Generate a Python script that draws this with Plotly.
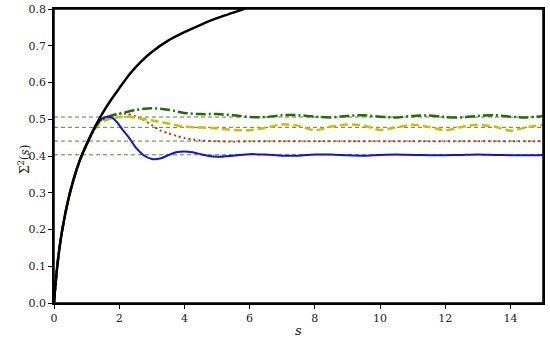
import plotly.graph_objects as go

# Reference curve (black)
s_ref = [0, 0.05, 0.1, 0.2, 0.3, 0.45, 0.6, 0.8, 1.0, 1.25, 1.5, 1.75, 2.0, 2.33, 2.67, 3.0, 3.5, 4.0, 4.5, 5.0, 5.5, 6.0]
v_ref = [0, 0.055, 0.1, 0.17, 0.222, 0.286, 0.336, 0.39, 0.432, 0.478, 0.518, 0.553, 0.584, 0.624, 0.657, 0.683, 0.714, 0.737, 0.757, 0.775, 0.790, 0.806]

# Blue solid
s_blue = [0, 0.1, 0.2, 0.3, 0.45, 0.6, 0.8, 1.0, 1.2, 1.35, 1.5, 1.65, 1.8, 1.95, 2.1, 2.3, 2.5, 2.75, 3.0, 3.25, 3.5, 3.75, 4.0, 4.25, 4.5, 4.75, 5.0,
          5.5, 6.0, 6.5, 7.0, 7.5, 8.0, 8.5, 9.0, 9.5, 10.0, 10.5, 11.0, 11.5, 12.0, 12.5, 13.0, 13.5, 14.0, 14.5, 15.0]
v_blue = [0, 0.1, 0.17, 0.222, 0.286, 0.336, 0.39, 0.432, 0.47, 0.492, 0.503, 0.507, 0.503, 0.49, 0.472, 0.45, 0.424, 0.402, 0.392, 0.393, 0.402, 0.41, 0.412, 0.41, 0.405, 0.400, 0.398,
          0.401, 0.405, 0.404, 0.401, 0.401, 0.404, 0.404, 0.402, 0.401, 0.403, 0.404, 0.403, 0.402, 0.402, 0.403, 0.404, 0.403, 0.402, 0.402, 0.403]

# Red dotted
s_red = [0, 0.1, 0.2, 0.3, 0.45, 0.6, 0.8, 1.0, 1.2, 1.4, 1.6, 1.8, 2.0, 2.2, 2.5, 2.75, 3.0, 3.25, 3.5, 3.75, 4.0, 4.25, 4.5, 5.0, 5.5, 6.0,
         7.0, 8.0, 9.0, 10.0, 11.0, 12.0, 13.0, 14.0, 15.0]
v_red = [0, 0.1, 0.17, 0.222, 0.286, 0.336, 0.39, 0.43, 0.466, 0.493, 0.505, 0.511, 0.515, 0.515, 0.508, 0.498, 0.484, 0.470, 0.462, 0.455, 0.449, 0.445, 0.442, 0.440, 0.439, 0.440,
         0.440, 0.440, 0.440, 0.440, 0.440, 0.440, 0.440, 0.440, 0.440]

# Yellow dashed
s_yel = [0, 0.1, 0.2, 0.3, 0.45, 0.6, 0.8, 1.0, 1.2, 1.4, 1.6, 1.8, 2.0, 2.3, 2.6, 3.0, 3.3, 3.6, 3.9, 4.3, 4.7, 5.0, 5.5,
         6.0, 6.5, 7.0, 7.5, 8.0, 8.5, 9.0, 9.5, 10.0, 10.5, 11.0, 11.5, 12.0, 12.5, 13.0, 13.5, 14.0, 14.5, 15.0]
v_yel = [0, 0.1, 0.17, 0.222, 0.286, 0.336, 0.39, 0.43, 0.466, 0.488, 0.498, 0.503, 0.506, 0.507, 0.503, 0.497, 0.492, 0.487, 0.481, 0.478, 0.477, 0.475, 0.471,
         0.470, 0.477, 0.486, 0.482, 0.470, 0.480, 0.486, 0.483, 0.471, 0.478, 0.485, 0.479, 0.470, 0.479, 0.485, 0.480, 0.469, 0.478, 0.485]

# Green dash-dot
s_grn = [0, 0.1, 0.2, 0.3, 0.45, 0.6, 0.8, 1.0, 1.2, 1.4, 1.6, 1.8, 2.0, 2.5, 3.0, 3.5, 4.0, 4.5, 5.0, 5.5,
         6.0, 6.5, 7.0, 7.5, 8.0, 8.5, 9.0, 9.5, 10.0, 10.5, 11.0, 11.5, 12.0, 12.5, 13.0, 13.5, 14.0, 14.5, 15.0]
v_grn = [0, 0.1, 0.17, 0.222, 0.286, 0.336, 0.39, 0.43, 0.468, 0.494, 0.505, 0.511, 0.515, 0.525, 0.530, 0.526, 0.517, 0.514, 0.514, 0.511,
         0.506, 0.506, 0.511, 0.511, 0.507, 0.505, 0.509, 0.511, 0.507, 0.505, 0.509, 0.510, 0.506, 0.505, 0.509, 0.511, 0.507, 0.505, 0.509]

# Horizontal asymptote levels
levels = [0.506, 0.478, 0.4406, 0.4033]

x_ticks = [0, 2, 4, 6, 8, 10, 12, 14]
y_ticks = [0.0, 0.1, 0.2, 0.3, 0.4, 0.5, 0.6, 0.7, 0.8]

FONT = "DejaVu Serif"

W, H = 550, 346
ML, MR, MT, MB = 54, 7, 9, 43
plot_w = W - ML - MR
plot_h = H - MT - MB


def px_to_paper_x(X):
    return (X - ML) / plot_w


def px_to_paper_y(Y):
    return (H - MB - Y) / plot_h


fig = go.Figure()

for lv in levels:
    fig.add_trace(go.Scatter(x=[0, 15], y=[lv, lv], mode="lines",
                             line=dict(color="#4a8a2a", width=1, dash="4px,3px"),
                             hoverinfo="skip", showlegend=False))

fig.add_trace(go.Scatter(x=s_red, y=v_red, mode="lines", line_shape="spline",
                         line=dict(color="#b5371a", width=2, dash="2px,3px", smoothing=0.8), showlegend=False))
fig.add_trace(go.Scatter(x=s_yel, y=v_yel, mode="lines", line_shape="spline",
                         line=dict(color="#c8c000", width=2.5, dash="8px,4px", smoothing=0.8), showlegend=False))
fig.add_trace(go.Scatter(x=s_grn, y=v_grn, mode="lines", line_shape="spline",
                         line=dict(color="#1e6e0a", width=2.5, dash="10px,3px,2px,3px", smoothing=0.8), showlegend=False))
fig.add_trace(go.Scatter(x=s_blue, y=v_blue, mode="lines", line_shape="spline",
                         line=dict(color="#1010e0", width=2, smoothing=0.8), showlegend=False))
fig.add_trace(go.Scatter(x=s_ref, y=v_ref, mode="lines", line_shape="spline",
                         line=dict(color="black", width=2.5, smoothing=0.8), showlegend=False))

axis_common = dict(showgrid=False, zeroline=False, showline=True, linecolor="black", linewidth=1.5,
                   mirror=True, ticks="outside", ticklen=4, tickwidth=1, tickcolor="black",
                   automargin=False, ticklabeloverflow="allow")

fig.update_layout(
    width=W, height=H,
    margin=dict(l=ML, r=MR, t=MT, b=MB),
    paper_bgcolor="white", plot_bgcolor="white",
    font=dict(family=FONT, size=11, color="#222"),
    xaxis=dict(range=[0, 15], tickvals=x_ticks, ticktext=[str(t) for t in x_ticks], **axis_common),
    yaxis=dict(range=[0, 0.8], tickvals=y_ticks, ticktext=[f"{t:.1f}" for t in y_ticks], **axis_common),
    shapes=[dict(type="rect", xref="paper", yref="paper", x0=0, x1=1, y0=0, y1=1,
                 line=dict(color="black", width=1.5), layer="above")],
    annotations=[
        dict(text="<i>s</i>", x=px_to_paper_x(298), y=px_to_paper_y(330), xref="paper", yref="paper",
             yanchor="middle", showarrow=False, font=dict(family=FONT, size=13, color="#222")),
        dict(text="Σ<sup>2</sup>(<i>s</i>)", x=px_to_paper_x(14), y=px_to_paper_y(160), xref="paper", yref="paper",
             showarrow=False, textangle=-90, font=dict(family=FONT, size=12, color="#222")),
    ],
)

fig.write_html("out.html", config={"displayModeBar": False},
               post_script="document.body.style.margin='0px';")
